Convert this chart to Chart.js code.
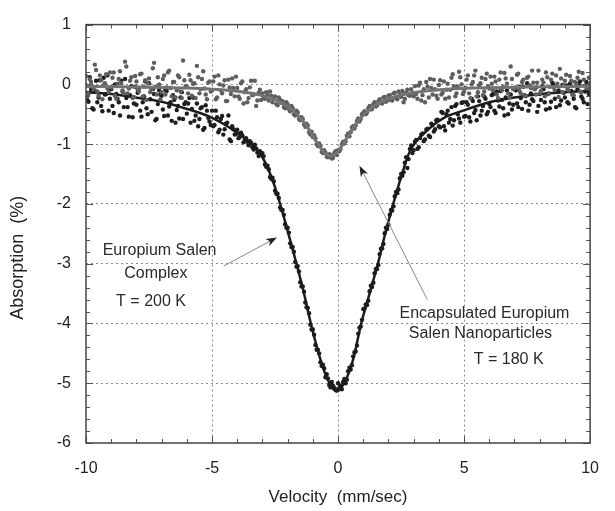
<!DOCTYPE html>
<html>
<head>
<meta charset="utf-8">
<script src="https://cdn.jsdelivr.net/npm/chart.js@4.4.1/dist/chart.umd.min.js"></script>
<style>
  html, body { margin: 0; padding: 0; background: #fff; }
  #wrap { width: 615px; height: 511px; }
</style>
</head>
<body>
<div id="wrap"><canvas id="spectrum"></canvas></div>
<script>
// Velocity channels, mm/sec. Even channels start at -10, odd channels at -9.95,
// both stepping 0.1 mm/sec.
const EVEN_START = -10;
const ODD_START = -9.95;
const CHANNEL_STEP = 0.1;

// Europium salen complex, T = 200 K (absorption %)
const complexEven = [
  -0.02, -0.29, -0.09, -0.42, 0.06, -0.22, -0.36, 0.11, -0.16, -0.44,
  -0.08, -0.48, -0.16, -0.30, 0.06, -0.38, -0.23, -0.54, -0.03, -0.32,
  -0.34, -0.06, -0.54, -0.20, -0.40, 0.02, -0.46, -0.16, -0.58, -0.10,
  -0.19, -0.53, -0.11, -0.37, -0.61, -0.26, -0.43, -0.57, -0.13, -0.33,
  -0.49, -0.23, -0.41, -0.61, -0.32, -0.58, -0.38, -0.73, -0.44, -0.62,
  -0.44, -0.68, -0.55, -0.76, -0.53, -0.75, -0.64, -0.92, -0.70, -0.84,
  -0.76, -0.88, -0.85, -0.92, -0.96, -0.95, -1.05, -1.01, -1.14, -1.12,
  -1.15, -1.34, -1.36, -1.55, -1.56, -1.78, -1.83, -2.06, -2.10, -2.34,
  -2.40, -2.66, -2.72, -2.97, -3.04, -3.31, -3.38, -3.65, -3.74, -4.02,
  -4.10, -4.36, -4.44, -4.65, -4.69, -4.90, -4.92, -5.07, -5.04, -5.10,
  -5.00,
  -5.04, -4.98, -5.00, -4.80, -4.77, -4.55, -4.47, -4.17, -4.05, -3.76,
  -3.68, -3.62, -3.37, -3.32, -3.09, -3.02, -2.75, -2.67, -2.40, -2.35,
  -2.10, -2.04, -1.80, -1.76, -1.50, -1.47, -1.22, -1.25, -1.02, -1.10,
  -0.93, -1.05, -0.84, -0.95, -0.76, -0.86, -0.66, -0.79, -0.60, -0.70,
  -0.46, -0.70, -0.50, -0.64, -0.38, -0.60, -0.33, -0.57, -0.31, -0.54,
  -0.30, -0.55, -0.24, -0.48, -0.60, -0.28, -0.44, -0.20, -0.50, -0.33,
  -0.18, -0.44, -0.12, -0.37, -0.26, -0.52, -0.10, -0.32, -0.42, -0.08,
  -0.32, -0.04, -0.41, -0.18, 0.02, -0.34, -0.25, -0.08, -0.46, -0.16,
  -0.03, -0.30, -0.16, -0.40, 0.03, -0.24, -0.12, -0.35, -0.01, -0.22,
  -0.30, 0.01, -0.17, -0.38, -0.08, 0.05, -0.24, -0.12, -0.33, -0.04
];
const complexOdd = [
  -0.26, 0.12, -0.40, -0.10, -0.30, 0.07, -0.45, -0.17, 0.15, -0.24,
  -0.36, 0.00, -0.24, -0.52, -0.12, 0.09, -0.38, -0.18, -0.55, -0.04,
  -0.14, -0.44, -0.30, 0.05, -0.50, -0.25, -0.08, -0.60, -0.33, -0.17,
  -0.42, -0.09, -0.52, -0.30, -0.18, -0.64, -0.36, -0.22, -0.58, -0.30,
  -0.32, -0.64, -0.22, -0.52, -0.70, -0.40, -0.76, -0.35, -0.56, -0.68,
  -0.70, -0.44, -0.80, -0.58, -0.84, -0.66, -0.52, -0.95, -0.75, -0.83,
  -0.90, -0.81, -0.97, -0.90, -1.02, -0.98, -1.09, -1.07, -1.20, -1.16,
  -1.20, -1.38, -1.42, -1.58, -1.62, -1.83, -1.90, -2.10, -2.18, -2.40,
  -2.48, -2.72, -2.80, -3.05, -3.13, -3.38, -3.47, -3.73, -3.83, -4.10,
  -4.19, -4.44, -4.50, -4.71, -4.75, -4.85, -5.03, -4.98, -5.08, -5.12,
  -5.08, -5.10, -4.93, -4.94, -4.74, -4.70, -4.48, -4.37, -4.07, -3.94,
  -3.75, -3.69, -3.46, -3.39, -3.16, -3.09, -2.84, -2.74, -2.49, -2.42,
  -2.18, -2.11, -1.87, -1.82, -1.57, -1.53, -1.31, -1.40, -1.08, -1.15,
  -0.96, -1.08, -0.90, -0.82, -0.92, -0.74, -0.88, -0.68, -0.75, -0.59,
  -0.72, -0.48, -0.77, -0.44, -0.58, -0.69, -0.36, -0.50, -0.64, -0.30,
  -0.53, -0.34, -0.62, -0.28, -0.43, -0.20, -0.52, -0.36, -0.24, -0.46,
  -0.38, -0.16, -0.48, -0.27, -0.11, -0.40, -0.22, -0.50, -0.17, -0.34,
  -0.10, -0.38, -0.23, -0.04, -0.30, -0.44, -0.15, -0.28, -0.05, -0.36,
  -0.26, -0.08, -0.42, -0.15, -0.29, -0.01, -0.38, -0.10, -0.27, -0.14,
  -0.02, -0.32, -0.11, -0.24, -0.40, 0.00, -0.20, -0.30, 0.04, -0.16
];

// Encapsulated europium salen nanoparticles, T = 180 K
const nanoEven = [
  0.14, -0.16, 0.04, -0.08, 0.24, -0.19, 0.07, -0.02, 0.17, -0.13,
  -0.05, 0.20, -0.24, 0.09, 0.02, -0.15, 0.30, -0.07, 0.12, -0.21,
  0.05, -0.12, 0.18, -0.04, -0.26, 0.10, -0.08, 0.36, -0.17, 0.00,
  -0.13, 0.15, -0.05, 0.23, -0.20, 0.04, -0.10, 0.12, -0.23, 0.07,
  -0.04, 0.16, -0.19, 0.02, 0.31, -0.15, 0.09, -0.07, -0.25, 0.05,
  -0.10, 0.13, -0.22, 0.00, -0.15, 0.07, -0.28, -0.05, 0.10, -0.20,
  -0.06, -0.24, 0.05, -0.13, -0.30, -0.05, -0.18, 0.06, -0.27, -0.09,
  -0.15, -0.24, -0.18, -0.12, -0.30, -0.20, -0.35, -0.26, -0.28, -0.40,
  -0.33, -0.45, -0.40, -0.52, -0.47, -0.60, -0.58, -0.71, -0.69, -0.84,
  -0.88, -0.90, -1.03, -1.04, -1.15, -1.14, -1.22, -1.18, -1.23, -1.12,
  -1.10,
  -1.08, -0.96, -0.95, -0.82, -0.80, -0.70, -0.69, -0.57, -0.58, -0.48,
  -0.50, -0.40, -0.42, -0.33, -0.37, -0.28, -0.31, -0.22, -0.29, -0.19,
  -0.26, -0.15, -0.23, -0.12, -0.21, -0.30, -0.14, -0.18, -0.08, -0.20,
  -0.16, -0.02, -0.27, -0.08, 0.04, -0.22, -0.06, 0.08, -0.19, -0.01,
  -0.17, 0.05, -0.09, -0.22, 0.11, -0.03, -0.15, 0.21, 0.00, -0.12,
  0.08, -0.15, 0.00, 0.15, -0.20, -0.02, 0.11, -0.12, 0.18, -0.07,
  0.01, 0.13, -0.17, 0.08, -0.10, 0.19, 0.01, -0.22, 0.09, -0.06,
  0.16, -0.11, 0.04, -0.19, 0.11, -0.02, 0.23, -0.08, 0.03, -0.15,
  0.08, -0.20, 0.12, -0.04, 0.18, -0.10, 0.01, 0.26, -0.13, 0.06,
  -0.08, 0.14, -0.17, 0.04, 0.11, -0.12, 0.19, -0.03, -0.07, 0.02
];
const nanoOdd = [
  -0.20, 0.09, -0.03, 0.33, -0.12, 0.15, -0.25, 0.02, -0.07, 0.20,
  0.11, -0.19, 0.01, 0.22, -0.10, 0.38, -0.15, 0.06, -0.23, 0.14,
  -0.08, 0.17, -0.20, 0.07, 0.02, -0.13, 0.27, -0.04, 0.12, -0.25,
  0.09, -0.17, 0.20, -0.06, 0.04, -0.22, 0.15, -0.12, 0.40, -0.03,
  -0.15, 0.07, 0.01, -0.23, 0.12, -0.08, 0.22, -0.17, 0.03, -0.12,
  0.05, -0.25, 0.15, -0.10, -0.02, -0.28, 0.08, -0.16, -0.06, 0.13,
  -0.20, 0.02, -0.32, -0.08, -0.23, 0.06, -0.17, -0.36, -0.14, -0.26,
  -0.22, -0.13, -0.27, -0.19, -0.24, -0.33, -0.22, -0.31, -0.38, -0.30,
  -0.41, -0.36, -0.50, -0.44, -0.58, -0.55, -0.67, -0.66, -0.80, -0.79,
  -0.85, -1.00, -0.99, -1.13, -1.10, -1.21, -1.17, -1.24, -1.15, -1.18,
  -1.12, -1.00, -0.99, -0.86, -0.87, -0.72, -0.74, -0.61, -0.62, -0.50,
  -0.45, -0.47, -0.36, -0.41, -0.30, -0.35, -0.25, -0.32, -0.21, -0.27,
  -0.18, -0.27, -0.14, -0.25, -0.17, -0.11, -0.24, -0.09, -0.19, -0.14,
  -0.03, -0.24, 0.03, -0.18, -0.30, -0.04, 0.09, -0.17, -0.08, -0.24,
  0.07, -0.14, -0.24, 0.01, -0.09, 0.17, -0.20, -0.04, 0.12, -0.16,
  -0.06, 0.15, -0.23, 0.04, 0.23, -0.13, 0.02, -0.18, 0.09, -0.03,
  0.13, -0.10, 0.05, -0.23, 0.20, -0.04, 0.10, -0.15, 0.30, -0.08,
  -0.05, 0.18, -0.15, 0.08, -0.20, 0.13, -0.06, 0.03, -0.17, 0.23,
  -0.11, 0.03, 0.20, -0.16, 0.08, -0.05, 0.15, -0.21, 0.10, -0.02,
  0.16, -0.10, 0.06, -0.18, 0.02, 0.21, -0.13, 0.08, -0.05, 0.11
];

// Fitted curves
const complexFitVelocity = [-10, -9, -8.2, -7, -6.4, -5.1, -4.1, -3.5, -3.04, -2.6, -2.3, -2.0, -1.65, -1.35, -1.08, -0.7, -0.4, -0.05,
  0.3, 0.6, 0.92, 1.25, 1.58, 1.9, 2.19, 2.5, 2.85, 3.54, 4.2, 4.96, 6, 7, 8, 9, 10];
const complexFitAbsorption = [-0.13, -0.16, -0.21, -0.29, -0.36, -0.54, -0.78, -0.97, -1.19, -1.6, -2.0, -2.45, -3.0, -3.5, -4.0, -4.6, -4.95, -5.14,
  -4.95, -4.6, -4.0, -3.5, -3.0, -2.45, -2.0, -1.55, -1.12, -0.77, -0.56, -0.44, -0.30, -0.22, -0.16, -0.13, -0.11];

const nanoFitVelocity = [-10, -8, -6, -5, -4, -3, -2.5, -2, -1.5, -1.25, -1, -0.75, -0.5, -0.3, -0.1, 0.15, 0.4, 0.65, 0.9, 1.4, 1.9, 2.4, 3.4, 4.4, 5.4, 7.4, 10];
const nanoFitAbsorption = [-0.035, -0.044, -0.062, -0.081, -0.116, -0.188, -0.256, -0.368, -0.559, -0.696, -0.86, -1.031, -1.162, -1.2, -1.162, -1.031, -0.86, -0.696, -0.559, -0.368, -0.256, -0.188, -0.116, -0.081, -0.062, -0.044, -0.033];

const xTicks = [-10, -5, 0, 5, 10];
const yTicks = [1, 0, -1, -2, -3, -4, -5, -6];

// Text labels and arrows, placed in data units
const notes = [
  { text: 'Europium Salen', x: -7.08, y: -2.78 },
  { text: 'Complex', x: -7.23, y: -3.17 },
  { text: 'T = 200 K', x: -7.42, y: -3.64 },
  { text: 'Encapsulated Europium', x: 5.81, y: -3.83 },
  { text: 'Salen Nanoparticles', x: 5.65, y: -4.17 },
  { text: 'T = 180 K', x: 6.77, y: -4.60 }
];
const arrows = [
  { from: [-4.54, -3.04], to: [-2.42, -2.56] },
  { from: [3.54, -3.60], to: [0.85, -1.36] }
];
const Y_TITLE = 'Absorption  (%)';
const Y_TITLE_AT = -2.9;

const FONT = "'Liberation Sans', Arial, sans-serif";

function channelPoints(values, start) {
  return values.map((v, i) => ({ x: +(start + i * CHANNEL_STEP).toFixed(2), y: v }));
}

function curvePoints(xs, ys) {
  return xs.map((x, i) => ({ x: x, y: ys[i] }));
}

const frameAndNotes = {
  id: 'frameAndNotes',
  afterDatasetsDraw(chart) {
    const { ctx, chartArea: a, scales: { x, y } } = chart;
    ctx.save();

    // inward tick marks on all four sides
    ctx.strokeStyle = '#555';
    ctx.lineWidth = 1;
    ctx.beginPath();
    for (let v = -10; v <= 10; v++) {
      const px = Math.round(x.getPixelForValue(v)) + 0.5;
      const len = v % 5 === 0 ? 7 : 4;
      ctx.moveTo(px, a.bottom); ctx.lineTo(px, a.bottom - len);
      ctx.moveTo(px, a.top); ctx.lineTo(px, a.top + len);
    }
    for (let k = -30; k <= 5; k++) {
      const py = Math.round(y.getPixelForValue(k / 5)) + 0.5;
      const len = k % 5 === 0 ? 7 : 4;
      ctx.moveTo(a.left, py); ctx.lineTo(a.left + len, py);
      ctx.moveTo(a.right, py); ctx.lineTo(a.right - len, py);
    }
    ctx.stroke();

    ctx.strokeStyle = '#444';
    ctx.lineWidth = 1.5;
    ctx.strokeRect(a.left, a.top, a.right - a.left, a.bottom - a.top);

    // arrows: thin grey shaft, dark barbed head
    arrows.forEach(ar => {
      const x0 = x.getPixelForValue(ar.from[0]), y0 = y.getPixelForValue(ar.from[1]);
      const x1 = x.getPixelForValue(ar.to[0]), y1 = y.getPixelForValue(ar.to[1]);
      const c = Math.cos(Math.atan2(y1 - y0, x1 - x0));
      const s = Math.sin(Math.atan2(y1 - y0, x1 - x0));
      ctx.strokeStyle = '#888';
      ctx.lineWidth = 1;
      ctx.beginPath();
      ctx.moveTo(x0, y0);
      ctx.lineTo(x1 - 6 * c, y1 - 6 * s);
      ctx.stroke();
      ctx.fillStyle = '#222';
      ctx.beginPath();
      ctx.moveTo(x1, y1);
      ctx.lineTo(x1 - 11 * c + 4 * s, y1 - 11 * s - 4 * c);
      ctx.lineTo(x1 - 8 * c, y1 - 8 * s);
      ctx.lineTo(x1 - 11 * c - 4 * s, y1 - 11 * s + 4 * c);
      ctx.closePath();
      ctx.fill();
    });

    ctx.fillStyle = '#2a2a2a';
    ctx.font = '16px ' + FONT;
    ctx.textAlign = 'center';
    ctx.textBaseline = 'middle';
    notes.forEach(n => {
      ctx.fillText(n.text, x.getPixelForValue(n.x), y.getPixelForValue(n.y));
    });

    // vertical axis title, rotated
    ctx.fillStyle = '#222';
    ctx.font = '18px ' + FONT;
    ctx.translate(18, y.getPixelForValue(Y_TITLE_AT));
    ctx.rotate(-Math.PI / 2);
    ctx.fillText(Y_TITLE, 0, 0);
    ctx.restore();
  }
};

function edgeHidden(ctx, edges) {
  return edges.includes(ctx.tick.value) ? 'rgba(0,0,0,0)' : '#8a8a8a';
}

new Chart(document.getElementById('spectrum'), {
  type: 'scatter',
  data: {
    datasets: [
      {
        label: 'Nanoparticles fit',
        data: curvePoints(nanoFitVelocity, nanoFitAbsorption),
        showLine: true,
        borderColor: '#737373',
        borderWidth: 3,
        pointRadius: 0,
        cubicInterpolationMode: 'monotone',
        order: 1
      },
      {
        label: 'Nanoparticles, T = 180 K',
        data: channelPoints(nanoEven, EVEN_START).concat(channelPoints(nanoOdd, ODD_START)),
        backgroundColor: '#5e5e5e',
        borderWidth: 0,
        pointRadius: 2.2,
        order: 2
      },
      {
        label: 'Complex fit',
        data: curvePoints(complexFitVelocity, complexFitAbsorption),
        showLine: true,
        borderColor: '#1c1c1c',
        borderWidth: 2.5,
        pointRadius: 0,
        cubicInterpolationMode: 'monotone',
        order: 3
      },
      {
        label: 'Complex, T = 200 K',
        data: channelPoints(complexEven, EVEN_START).concat(channelPoints(complexOdd, ODD_START)),
        backgroundColor: '#1e1e1e',
        borderWidth: 0,
        pointRadius: 2.2,
        order: 4
      }
    ]
  },
  options: {
    responsive: true,
    maintainAspectRatio: false,
    animation: false,
    layout: { padding: { left: 0, right: 9, top: 20, bottom: 0 } },
    plugins: {
      legend: { display: false },
      tooltip: { enabled: false }
    },
    scales: {
      x: {
        type: 'linear',
        min: -10,
        max: 10,
        afterBuildTicks: s => { s.ticks = xTicks.map(v => ({ value: v })); },
        afterFit: s => { s.height = 68; },
        ticks: { font: { family: FONT, size: 16 }, color: '#222', padding: 16, maxRotation: 0 },
        grid: { drawTicks: false, lineWidth: 1, color: ctx => edgeHidden(ctx, [-10, 10]) },
        border: { display: false, dash: [2, 3] },
        title: {
          display: true,
          text: 'Velocity  (mm/sec)',
          font: { family: FONT, size: 17 },
          color: '#222',
          padding: { top: 0, bottom: 3 }
        }
      },
      y: {
        type: 'linear',
        min: -6,
        max: 1,
        afterBuildTicks: s => { s.ticks = yTicks.map(v => ({ value: v })); },
        afterFit: s => { s.width = 86; },
        ticks: { font: { family: FONT, size: 16 }, color: '#222', padding: 15 },
        grid: { drawTicks: false, lineWidth: 1, color: ctx => edgeHidden(ctx, [1, -6]) },
        border: { display: false, dash: [2, 3] }
      }
    }
  },
  plugins: [frameAndNotes]
});
</script>
</body>
</html>
